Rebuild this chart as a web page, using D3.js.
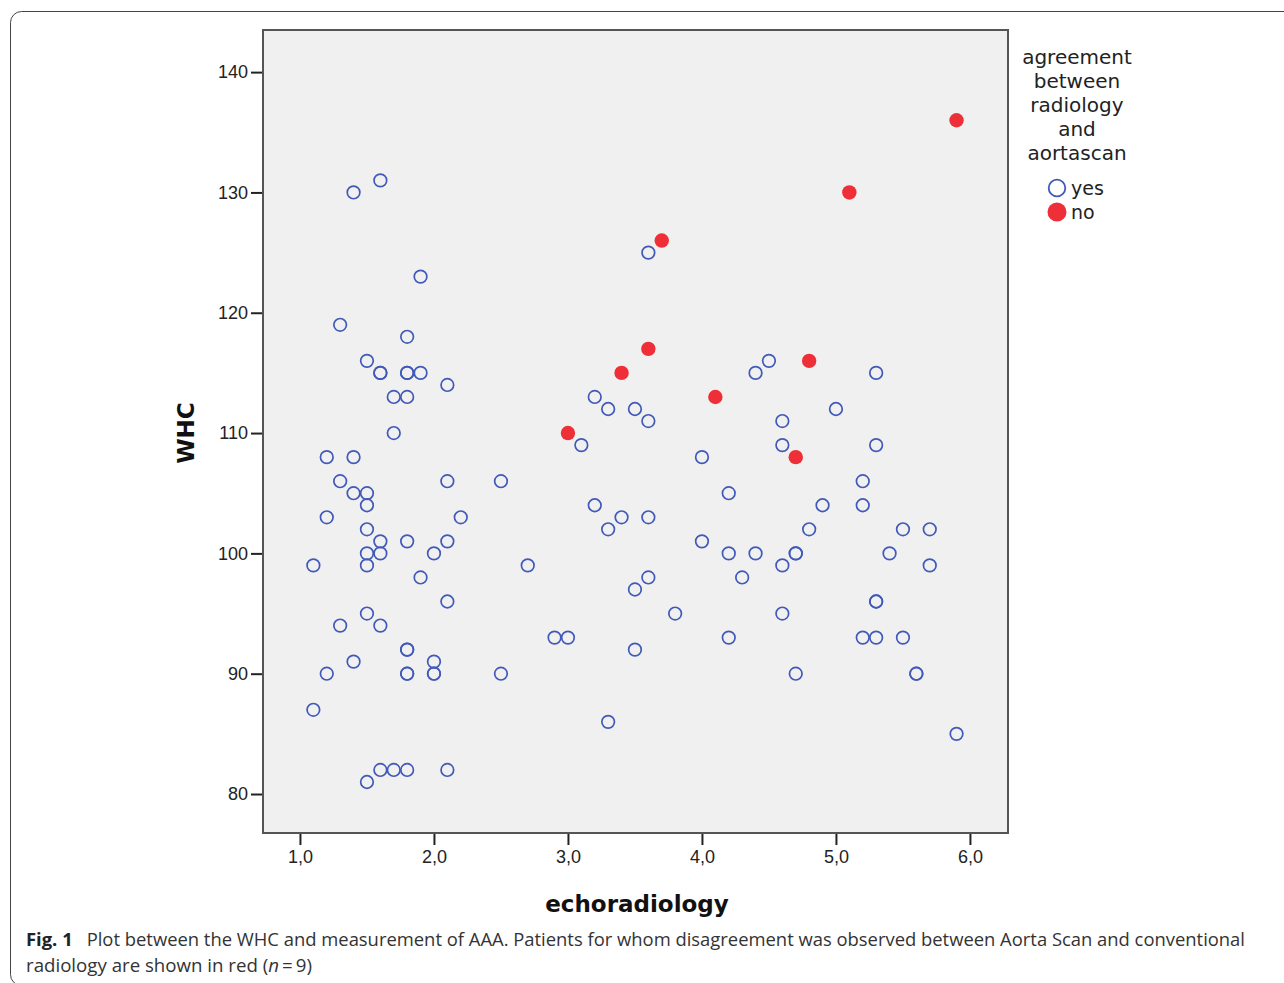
<!DOCTYPE html>
<html lang="en">
<head>
<meta charset="UTF-8">
<title>WHC vs echoradiology</title>
<style>
  * { margin: 0; padding: 0; }
  body { background: #fff; overflow: hidden; }
  svg { display: block; }
</style>
</head>
<body>
<svg width="1284" height="983"></svg>
<script src="https://cdn.jsdelivr.net/npm/d3@7/dist/d3.min.js"></script>
<script>
// agreement between radiology and aortascan = yes (open blue circles)
const yesEcho = [
  1.4, 1.6, 1.9, 1.3, 1.8, 1.5, 1.6, 1.6, 1.8, 1.8, 1.9, 1.7, 1.8, 2.1, 1.7,
  1.2, 1.4, 1.3, 1.4, 1.5, 1.5, 1.2, 2.1, 2.5, 2.2, 1.5, 1.6, 1.8, 2.1, 1.5,
  1.6, 2.0, 1.1, 1.5, 1.9, 2.1, 1.5, 1.3, 1.6, 1.4, 1.2, 1.8, 1.8, 1.8, 1.8,
  2.0, 2.0, 2.0, 2.5, 1.1, 1.5, 1.6, 1.7, 1.8, 2.1,
  2.7, 2.9, 3.0, 3.1, 3.2, 3.3, 3.2, 3.3, 3.4, 3.6, 3.5, 3.6, 3.6, 3.6, 3.5,
  3.5, 3.3, 3.8, 4.0, 4.0, 4.2, 4.2, 4.4, 4.3, 4.2, 4.4, 4.5, 4.6, 4.6, 4.6,
  4.6, 4.7, 4.7, 4.7, 4.8, 4.9, 5.0, 5.2, 5.2, 5.3, 5.3, 5.4, 5.3, 5.3, 5.2,
  5.3, 5.5, 5.5, 5.6, 5.6, 5.7, 5.7, 5.9
];
const yesWHC = [
  130, 131, 123, 119, 118, 116, 115, 115, 115, 115, 115, 113, 113, 114, 110,
  108, 108, 106, 105, 105, 104, 103, 106, 106, 103, 102, 101, 101, 101, 100,
  100, 100, 99, 99, 98, 96, 95, 94, 94, 91, 90, 92, 92, 90, 90,
  91, 90, 90, 90, 87, 81, 82, 82, 82, 82,
  99, 93, 93, 109, 113, 112, 104, 102, 103, 103, 112, 111, 125, 98, 97,
  92, 86, 95, 108, 101, 105, 100, 100, 98, 93, 115, 116, 111, 109, 99,
  95, 100, 100, 90, 102, 104, 112, 106, 104, 115, 109, 100, 96, 96, 93,
  93, 102, 93, 90, 90, 102, 99, 85
];
// agreement = no (filled red circles), n = 9
const noEcho = [3.0, 3.4, 3.6, 3.7, 4.1, 4.7, 4.8, 5.1, 5.9];
const noWHC = [110, 115, 117, 126, 113, 108, 116, 130, 136];

const xTicks = [1, 2, 3, 4, 5, 6];
const yTicks = [80, 90, 100, 110, 120, 130, 140];
const legendTitle = ["agreement", "between", "radiology", "and", "aortascan"];
const legendItems = ["yes", "no"];

const BLUE = '#4159b8';
const RED = '#ee2f37';

const svg = d3.select('svg');

// figure frame (rounded, runs off the right and bottom edges)
svg.append('rect')
  .attr('x', 10.5).attr('y', 11.5).attr('width', 1320).attr('height', 974)
  .attr('rx', 11).attr('fill', 'none').attr('stroke', '#444').attr('stroke-width', 1);

const plot = { left: 263, right: 1008, top: 30, bottom: 833 };

const x = d3.scaleLinear().domain([0.7242, 6.284]).range([plot.left, plot.right]);
const y = d3.scaleLinear().domain([76.76, 143.5]).range([plot.bottom, plot.top]);

svg.append('rect')
  .attr('x', plot.left).attr('y', plot.top)
  .attr('width', plot.right - plot.left).attr('height', plot.bottom - plot.top)
  .attr('fill', '#f0f0f0').attr('stroke', '#555').attr('stroke-width', 2);

const fmt = d => d3.format('.1f')(d).replace('.', ',');

const xAxis = svg.append('g')
  .attr('transform', 'translate(0,' + (plot.bottom + 1) + ')')
  .call(d3.axisBottom(x).tickValues(xTicks).tickSize(11).tickPadding(5).tickFormat(fmt));
const yAxis = svg.append('g')
  .attr('transform', 'translate(' + (plot.left - 1) + ',0)')
  .call(d3.axisLeft(y).tickValues(yTicks).tickSize(11).tickPadding(3).tickFormat(d3.format('d')));

[xAxis, yAxis].forEach(a => {
  a.select('.domain').remove();
  a.selectAll('.tick line').attr('stroke', '#222').attr('stroke-width', 2);
  a.selectAll('.tick text')
    .attr('fill', '#222')
    .style('font-family', '"Liberation Sans", Arial, sans-serif')
    .style('font-size', '18px');
});

// points
svg.append('g').selectAll('circle')
  .data(yesEcho.map((e, i) => [e, yesWHC[i]]))
  .enter().append('circle')
  .attr('cx', d => x(d[0])).attr('cy', d => y(d[1]))
  .attr('r', 6.3)
  .attr('fill', 'none').attr('stroke', BLUE).attr('stroke-width', 1.7);

svg.append('g').selectAll('circle')
  .data(noEcho.map((e, i) => [e, noWHC[i]]))
  .enter().append('circle')
  .attr('cx', d => x(d[0])).attr('cy', d => y(d[1]))
  .attr('r', 7.2)
  .attr('fill', RED);

// axis titles
svg.append('text')
  .attr('x', 637).attr('y', 912)
  .attr('text-anchor', 'middle')
  .style('font-family', '"DejaVu Sans", Verdana, sans-serif')
  .style('font-weight', 'bold').style('font-size', '23px')
  .attr('fill', '#111')
  .text('echoradiology');

svg.append('text')
  .attr('transform', 'translate(194,433) rotate(-90)')
  .attr('text-anchor', 'middle')
  .style('font-family', '"DejaVu Sans", Verdana, sans-serif')
  .style('font-weight', 'bold').style('font-size', '23px')
  .attr('fill', '#111')
  .text('WHC');

// legend
const lg = svg.append('g');
lg.selectAll('text.title')
  .data(legendTitle).enter().append('text')
  .attr('class', 'title')
  .attr('x', 1077).attr('y', (d, i) => 64 + i * 24)
  .attr('text-anchor', 'middle')
  .style('font-family', '"DejaVu Sans", Verdana, sans-serif')
  .style('font-size', '20px')
  .attr('fill', '#222')
  .text(d => d);

const items = lg.selectAll('g.item')
  .data(legendItems).enter().append('g')
  .attr('class', 'item')
  .attr('transform', (d, i) => 'translate(1057,' + (188 + i * 24) + ')');
items.append('circle')
  .attr('r', d => d === 'yes' ? 8.3 : 9.5)
  .attr('fill', d => d === 'yes' ? 'none' : RED)
  .attr('stroke', d => d === 'yes' ? BLUE : 'none')
  .attr('stroke-width', 1.8);
items.append('text')
  .attr('x', 14).attr('y', 7)
  .style('font-family', '"DejaVu Sans", Verdana, sans-serif')
  .style('font-size', '19px')
  .attr('fill', '#222')
  .text(d => d);

// caption
const cap = svg.append('g')
  .style('font-family', '"Open Sans", "Noto Sans", sans-serif')
  .style('font-size', '18px')
  .attr('fill', '#333');
const l1 = cap.append('text').attr('x', 26).attr('y', 946)
  .attr('textLength', 1219).attr('lengthAdjust', 'spacingAndGlyphs');
l1.append('tspan').style('font-weight', 'bold').attr('fill', '#222').text('Fig. 1');
l1.append('tspan').text('\u2002 Plot between the WHC and measurement of AAA. Patients for whom disagreement was observed between Aorta Scan and conventional');
const l2 = cap.append('text').attr('x', 26).attr('y', 972)
  .attr('textLength', 286).attr('lengthAdjust', 'spacingAndGlyphs');
l2.append('tspan').text('radiology are shown in red (');
l2.append('tspan').style('font-style', 'italic').text('n');
l2.append('tspan').text('\u2009=\u20099)');
</script>
</body>
</html>
